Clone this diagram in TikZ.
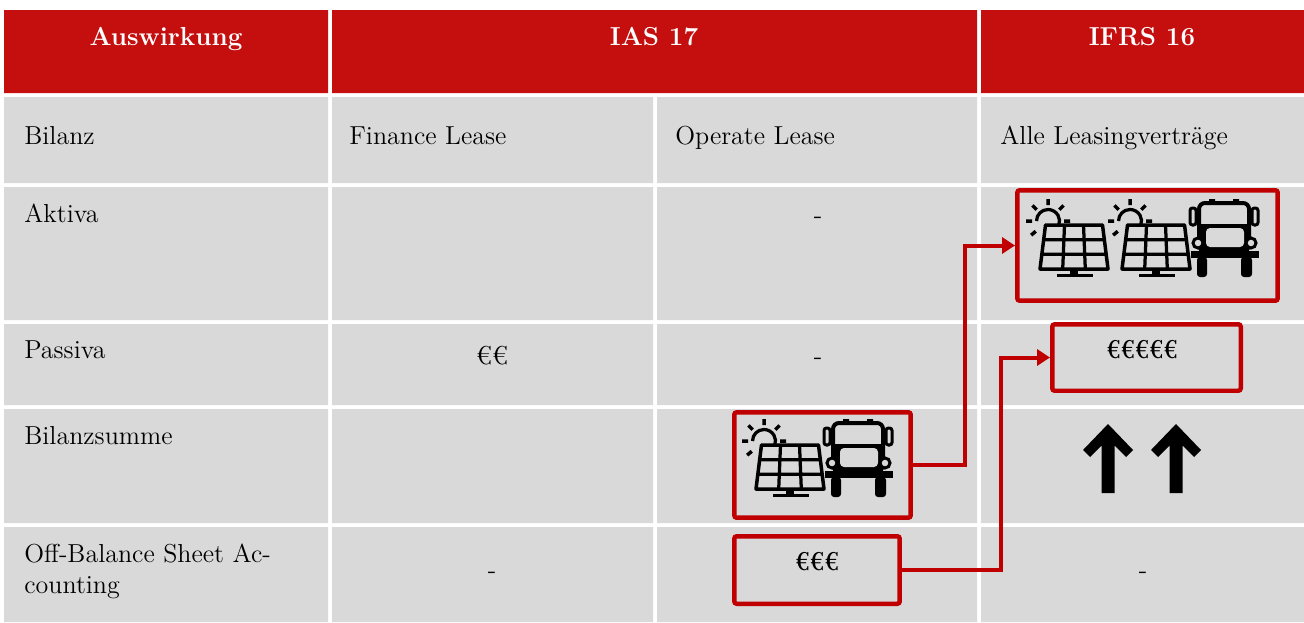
\documentclass[tikz,border=0pt]{standalone}
\usepackage{fontspec}
\usepackage{graphicx}
\usetikzlibrary{arrows.meta}

\definecolor{hdrred}{RGB}{197,14,14}
\definecolor{boxred}{RGB}{192,0,0}
\definecolor{cellgrey}{RGB}{217,217,217}

\tikzset{
  celltext/.style={anchor=base west, inner sep=0pt, font=\fontsize{14.8}{17.6}\selectfont},
  midtext/.style={anchor=base, inner sep=0pt, font=\fontsize{14.8}{17.6}\selectfont},
  boldmid/.style={anchor=base, inner sep=0pt, font=\fontsize{14.8}{17.6}\selectfont\bfseries},
  headtext/.style={anchor=base, inner sep=0pt, text=white, font=\fontsize{14.8}{17.6}\selectfont\bfseries},
  redbox/.style={draw=boxred, line width=0.09cm, rounded corners=0.05cm, inner sep=0pt},
  redline/.style={draw=boxred, line width=0.08cm, -{Triangle[length=0.26cm,width=0.32cm]}},
  solar/.pic={
    \draw[line width=0.065cm] (-26,-56) ++(180:11.5) arc[start angle=180, end angle=380, radius=11.5];
    \draw[line width=0.07cm] (-26,-56) +(0:16) -- +(0:22) +(140:16) -- +(140:22) +(180:16) -- +(180:22)
      +(225:16) -- +(225:22) +(270:16) -- +(270:22) +(315:16) -- +(315:22);
    \draw[line width=0.07cm, line join=round, fill=cellgrey] (-28.5,-52) -- (28.5,-52) -- (34,-8) -- (-34,-8) -- cycle;
    \draw[line width=0.065cm] (-30.3,-37.3) -- (30.3,-37.3) (-32.2,-22.7) -- (32.2,-22.7)
      (-9.5,-52) -- (-11.3,-8) (9.5,-52) -- (11.3,-8);
    \fill (-4,-8) rectangle (4,-3);
    \fill (-17,-3.5) rectangle (19,0);
  },
  truck/.pic={
    \draw[line width=0.06cm, rounded corners=0.05cm] (-34,-69) rectangle (-28,-52) (28,-69) rectangle (34,-52);
    \fill (-15,-78) rectangle (-9,-74) (9,-78) rectangle (15,-74);
    \draw[line width=0.08cm, rounded corners=0.12cm, fill=cellgrey] (-25,-74) rectangle (25,-26);
    \fill (-25,-53) rectangle (25,-26);
    \fill[cellgrey, rounded corners=0.08cm] (-18,-49) rectangle (20,-30);
    \draw[line width=0.06cm, fill=cellgrey] (-26,-34) circle[radius=5] (27,-34) circle[radius=5];
    \fill (-33,-26) rectangle (35,-19);
    \fill[rounded corners=0.06cm] (-27,-20) rectangle (-17,0) (17,-20) rectangle (28,0);
  },
  bigarrow/.pic={
    \fill (0,0) -- (25,26) -- (18,33) -- (6.5,21.5) -- (6.5,69) -- (-6.5,69) -- (-6.5,21.5) -- (-18,33) -- (-25,26) -- cycle;
  }
}

\begin{document}
\begin{tikzpicture}[x=0.02cm, y=-0.02cm]
\useasboundingbox (0,0) rectangle (1304,622);

\fill[hdrred] (4,10) rectangle (328,93) (332,10) rectangle (977,93) (981,10) rectangle (1304,93);
\fill[cellgrey] (4,97) rectangle (328,183) (332,97) rectangle (653,183) (657,97) rectangle (977,183) (981,97) rectangle (1304,183);
\fill[cellgrey] (4,187) rectangle (328,320) (332,187) rectangle (653,320) (657,187) rectangle (977,320) (981,187) rectangle (1304,320);
\fill[cellgrey] (4,324) rectangle (328,405) (332,324) rectangle (653,405) (657,324) rectangle (977,405) (981,324) rectangle (1304,405);
\fill[cellgrey] (4,409) rectangle (328,523) (332,409) rectangle (653,523) (657,409) rectangle (977,523) (981,409) rectangle (1304,523);
\fill[cellgrey] (4,527) rectangle (328,622) (332,527) rectangle (653,622) (657,527) rectangle (977,622) (981,527) rectangle (1304,622);

\node[headtext] (hauswirkung) at (166,45) {Auswirkung};
\node[headtext] (hias) at (654,45) {IAS 17};
\node[headtext] (hifrs) at (1142,45) {IFRS 16};

\node[celltext] (bilanz) at (24,144) {Bilanz};
\node[celltext] (finance) at (349,144) {Finance Lease};
\node[celltext] (operate) at (675,144) {Operate Lease};
\node[celltext] (alle) at (1000,144) {Alle Leasingverträge};

\node[celltext] (aktiva) at (24,222) {Aktiva};
\node[midtext] (aktop) at (818,223) {-};

\node[celltext] (passiva) at (24,358) {Passiva};
\node[midtext] (passfin) at (492,364) {€€};
\node[midtext] (passop) at (818,364) {-};

\node[celltext] (summe) at (24,444) {Bilanzsumme};

\node[celltext, align=left] (offbal) at (24,593) {Off-Balance Sheet Ac-\\counting};
\node[midtext] (offfin) at (492,578) {-};
\node[midtext] (offifrs) at (1143,578) {-};

\node[redbox, minimum width=5.21cm, minimum height=2.21cm] (aktbox) at (1147.5,245.5) {};
\node[redbox, minimum width=3.77cm, minimum height=1.33cm] (passbox) at (1146.5,357.5) {};
\node[redbox, minimum width=3.53cm, minimum height=2.11cm] (opbox) at (822.5,465) {};
\node[redbox, minimum width=3.31cm, minimum height=1.35cm] (eurobox) at (817,570) {};

\node[boldmid] (eurotxt) at (817,570) {\scalebox{0.8}[1]{€€€}};
\node[boldmid] (passtxt) at (1142,358) {\scalebox{0.78}[1]{€€€€€}};

\pic at (1074,277) {solar};
\pic at (1156,277) {solar};
\pic at (1224,277) {truck};
\pic at (790,497) {solar};
\pic at (858,497) {truck};

\pic at (1108,424) {bigarrow};
\pic at (1176,424) {bigarrow};

\draw[redline] (opbox.east) -- ++(52,0) |- (aktbox.west);
\draw[redline] (eurobox.east) -- ++(99,0) |- (passbox.west);
\end{tikzpicture}
\end{document}
